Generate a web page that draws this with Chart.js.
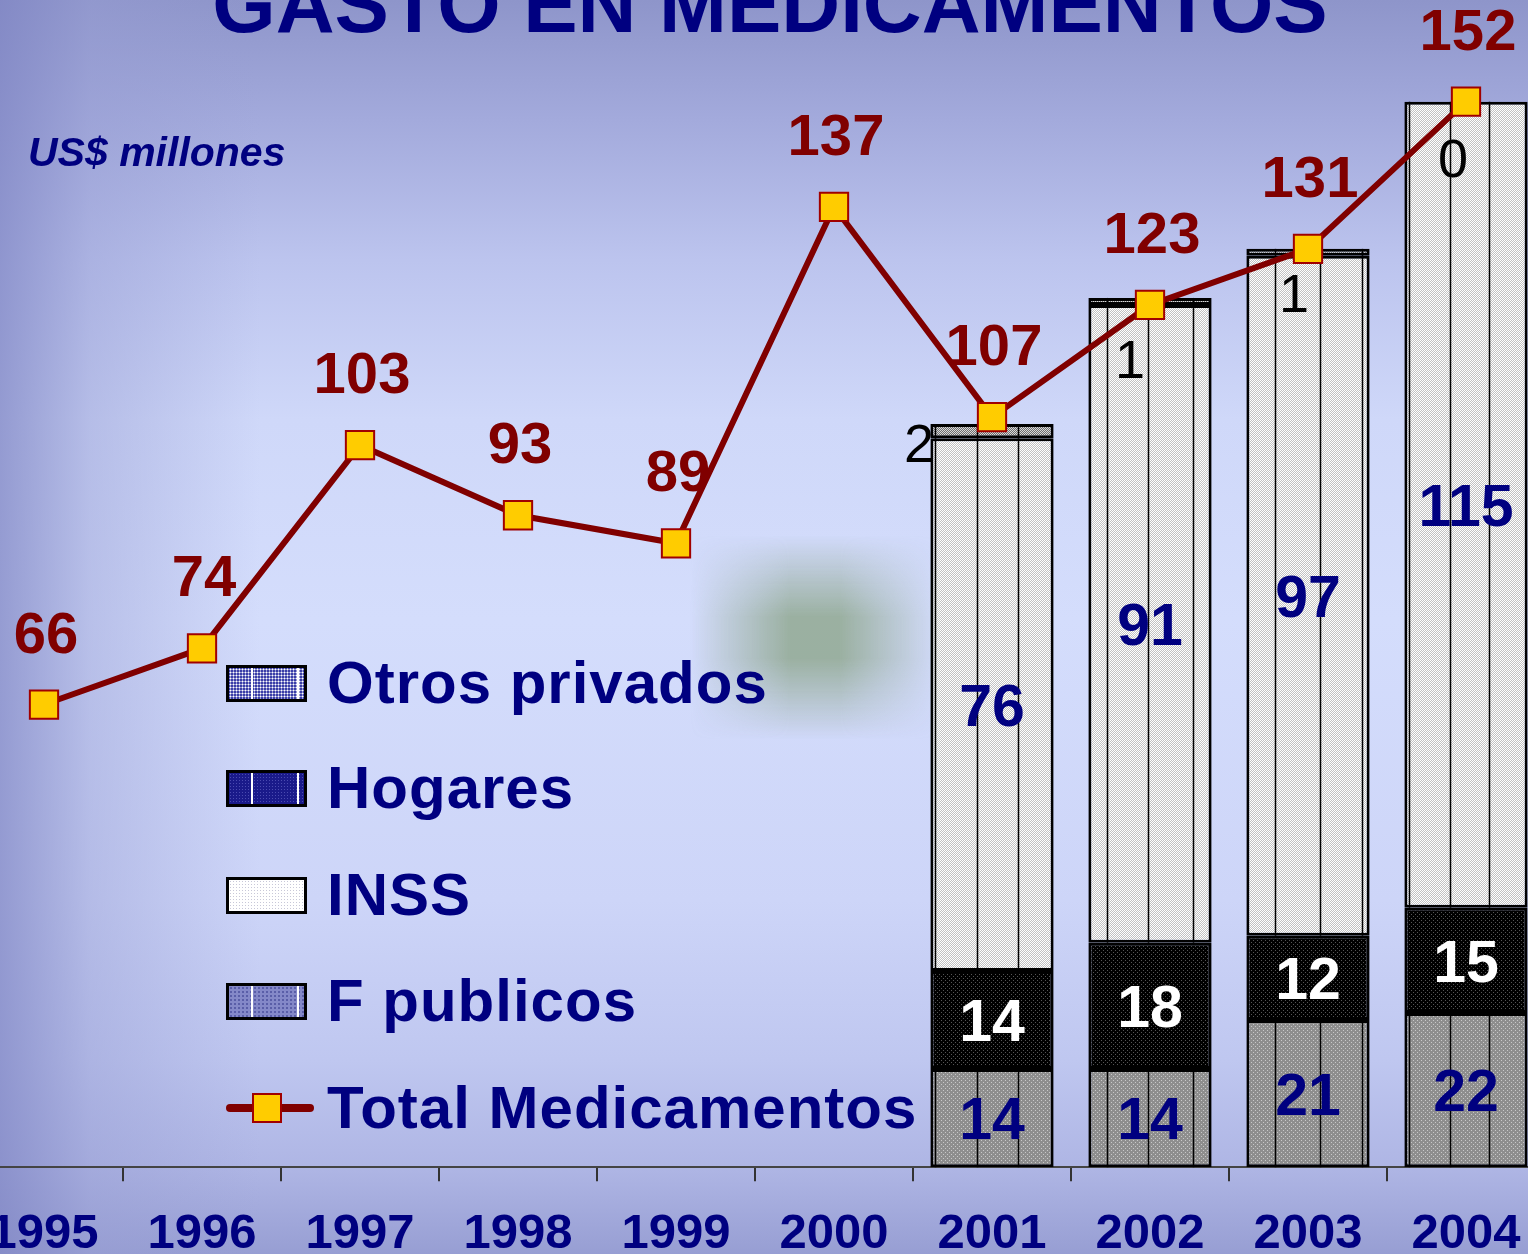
<!DOCTYPE html>
<html>
<head>
<meta charset="utf-8">
<script src="https://cdn.jsdelivr.net/npm/chart.js@4.4.0/dist/chart.umd.min.js"></script>
<style>
html, body { margin: 0; padding: 0; width: 1528px; height: 1254px; overflow: hidden; }
body {
    position: relative;
    font-family: 'Liberation Sans', Arial, sans-serif;
    background:
        linear-gradient(to right, rgba(128,134,196,0.75) 0px, rgba(150,156,210,0.45) 90px, rgba(190,198,240,0) 260px),
        linear-gradient(to bottom, #8e95ca 0px, #a3aadc 120px, #bcc4ee 260px, #cfd8f9 420px, #d4ddfc 620px, #cdd5f8 900px, #bfc7f0 1060px, #aeb5e4 1170px, #979ed3 1254px);
}
#blobx {
    position: absolute; left: 690px; top: 535px; width: 250px; height: 205px;
    -webkit-mask-image: linear-gradient(to right, transparent 0%, #000 40%, #000 60%, transparent 100%);
    mask-image: linear-gradient(to right, transparent 0%, #000 40%, #000 60%, transparent 100%);
}
#bloby {
    width: 100%; height: 100%;
    background: rgba(120,148,105,0.62);
    -webkit-mask-image: linear-gradient(to bottom, transparent 0%, #000 40%, #000 60%, transparent 100%);
    mask-image: linear-gradient(to bottom, transparent 0%, #000 40%, #000 60%, transparent 100%);
}
#wrap { position: absolute; left: -35px; top: 0; width: 1580px; height: 1288px; }
#titulo {
    position: absolute; left: 0; width: 1540px; top: -41px; text-align: center;
    font-size: 81.5px; font-weight: bold; color: #000080; line-height: 90px; white-space: nowrap;
}
#unidad {
    position: absolute; left: 28px; top: 129px;
    font-size: 41px; font-weight: bold; font-style: italic; color: #000080;
}
.leg { position: absolute; left: 226px; height: 60px; }
.leg .box {
    position: absolute; left: 0; top: 12px; width: 75px; height: 31px; border: 3px solid #000;
}
.leg .txt {
    position: absolute; left: 101px; top: 0; line-height: 60px; letter-spacing: 1px;
    font-size: 60px; font-weight: bold; color: #000080; white-space: nowrap;
}
.l1 .box { background:
    linear-gradient(to right, transparent 22px, #fff 22px, #fff 24px, transparent 24px, transparent 68px, #fff 68px, #fff 70px, transparent 70px),
    radial-gradient(circle, #fff 0.9px, transparent 1.1px) 0 0 / 3px 3px, #3a3ea8; }
.l2 .box { background:
    linear-gradient(to right, transparent 22px, #fff 22px, #fff 24px, transparent 24px, transparent 68px, #fff 68px, #fff 70px, transparent 70px),
    radial-gradient(circle, #4a4ab0 0.8px, transparent 1px) 0 0 / 3px 3px, #1a1a8a; }
.l3 .box { background:
    radial-gradient(circle, #c8c8d8 0.8px, transparent 1px) 0 0 / 3px 3px, #fff; }
.l4 .box { background:
    linear-gradient(to right, transparent 22px, #fff 22px, #fff 24px, transparent 24px, transparent 68px, #fff 68px, #fff 70px, transparent 70px),
    radial-gradient(circle, #5a5ea8 0.8px, transparent 1px) 0 0 / 4px 4px, #8488c8; }
.l5 .ln { position: absolute; left: 0; top: 26px; width: 88px; height: 8px; border-radius: 4px; background: #800000; }
.l5 .sq { position: absolute; left: 26px; top: 15px; width: 26px; height: 26px; background: #ffcc00; border: 2px solid #a00000; }
</style>
</head>
<body>
<div id="blobx"><div id="bloby"></div></div>
<div id="wrap"><canvas id="grafico" width="1580" height="1288"></canvas></div>
<div id="titulo">GASTO EN MEDICAMENTOS</div>
<div id="unidad">US$ millones</div>
<div class="leg l1" style="top:653px"><div class="box"></div><div class="txt">Otros privados</div></div>
<div class="leg l2" style="top:758px"><div class="box"></div><div class="txt">Hogares</div></div>
<div class="leg l3" style="top:865px"><div class="box"></div><div class="txt">INSS</div></div>
<div class="leg l4" style="top:971px"><div class="box"></div><div class="txt">F publicos</div></div>
<div class="leg l5" style="top:1078px"><div class="ln"></div><div class="sq"></div><div class="txt">Total Medicamentos</div></div>
<script>
const anios = ['1995', '1996', '1997', '1998', '1999', '2000', '2001', '2002', '2003', '2004'];
const totalMedicamentos = [66, 74, 103, 93, 89, 137, 107, 123, 131, 152];
const fPublicos = [null, null, null, null, null, null, 14, 14, 21, 22];
const hogares = [null, null, null, null, null, null, 14, 18, 12, 15];
const inss = [null, null, null, null, null, null, 76, 91, 97, 115];
const otrosPrivados = [null, null, null, null, null, null, 2, 1, 1, 0];

const fuente = "'Liberation Sans', Arial, sans-serif";

// tramas de las barras
function trama(fondo, punto, paso) {
    const c = document.createElement('canvas');
    c.width = paso; c.height = paso;
    const g = c.getContext('2d');
    g.fillStyle = fondo; g.fillRect(0, 0, paso, paso);
    g.fillStyle = punto;
    g.fillRect(0, 0, 1, 1);
    g.fillRect(paso / 2, paso / 2, 1, 1);
    return g.createPattern(c, 'repeat');
}

// lineas verticales dentro de cada barra (fraccion del ancho)
const rayas = [[0.04, 0.38, 0.71], [0.15, 0.48, 0.85], [0.23, 0.6, 0.94], [0.04, 0.37, 0.69]];
// desplazamiento de las etiquetas de "Otros privados"
const otrosDx = [-73, -20, -14, -13];
const otrosDy = [19, 61, 44, 56];

const rayasPlugin = {
    id: 'rayas',
    afterDatasetDraw(chart, args) {
        if (![1, 3, 4].includes(args.index)) return;
        const ctx = chart.ctx;
        ctx.save();
        ctx.strokeStyle = '#000';
        ctx.lineWidth = 1.5;
        args.meta.data.forEach((bar, j) => {
            if (j < 6 || bar.base - bar.y < 1) return;
            const izq = bar.x - bar.width / 2;
            rayas[j - 6].forEach(f => {
                const x = Math.round(izq + f * bar.width) + 0.5;
                ctx.beginPath();
                ctx.moveTo(x, bar.y);
                ctx.lineTo(x, bar.base);
                ctx.stroke();
            });
        });
        ctx.restore();
    }
};

const etiquetasPlugin = {
    id: 'etiquetas',
    afterDraw(chart) {
        const ctx = chart.ctx;
        ctx.save();
        ctx.textAlign = 'center';
        ctx.textBaseline = 'alphabetic';
        const tam = 59;
        const segmentos = [[1, '#000080'], [2, '#ffffff'], [3, '#000080']];
        segmentos.forEach(([i, color]) => {
            const datos = chart.data.datasets[i].data;
            chart.getDatasetMeta(i).data.forEach((bar, j) => {
                if (datos[j] == null) return;
                ctx.font = 'bold ' + tam + 'px ' + fuente;
                ctx.fillStyle = color;
                ctx.fillText(String(datos[j]), bar.x, (bar.y + bar.base) / 2 + tam * 0.358);
            });
        });
        chart.getDatasetMeta(4).data.forEach((bar, j) => {
            if (otrosPrivados[j] == null) return;
            ctx.font = '54px ' + fuente;
            ctx.fillStyle = '#000';
            ctx.fillText(String(otrosPrivados[j]), bar.x + otrosDx[j - 6], bar.y + otrosDy[j - 6] + 54 * 0.358);
        });
        chart.getDatasetMeta(0).data.forEach((pt, j) => {
            ctx.font = 'bold 58px ' + fuente;
            ctx.fillStyle = '#800000';
            ctx.fillText(String(totalMedicamentos[j]), pt.x + 2, pt.y - 52);
        });
        ctx.restore();
    }
};

const ctx = document.getElementById('grafico');
new Chart(ctx, {
    type: 'bar',
    data: {
        labels: anios,
        datasets: [{
            type: 'line',
            label: 'Total Medicamentos',
            data: totalMedicamentos,
            stack: 'total',
            order: 0,
            borderColor: '#800000',
            borderWidth: 6,
            pointStyle: 'rect',
            pointRadius: 20,
            pointBackgroundColor: '#ffcc00',
            pointBorderColor: '#a00000',
            pointBorderWidth: 2,
            tension: 0
        },
        {
            label: 'F publicos',
            data: fPublicos,
            stack: 'med',
            order: 1,
            backgroundColor: trama('#8e8e8e', '#c8c8c8', 4),
            borderColor: '#000',
            borderWidth: 3,
            borderSkipped: false
        },
        {
            label: 'Hogares',
            data: hogares,
            stack: 'med',
            order: 1,
            backgroundColor: trama('#000000', '#555555', 4),
            borderColor: '#000',
            borderWidth: 3,
            borderSkipped: false
        },
        {
            label: 'INSS',
            data: inss,
            stack: 'med',
            order: 1,
            backgroundColor: trama('#ffffff', '#c2c2c2', 2),
            borderColor: '#000',
            borderWidth: 3,
            borderSkipped: false
        },
        {
            label: 'Otros privados',
            data: otrosPrivados,
            stack: 'med',
            order: 1,
            backgroundColor: trama('#d8d8d8', '#6e6e6e', 2),
            borderColor: '#000',
            borderWidth: 3,
            borderSkipped: false
        }]
    },
    options: {
        responsive: false,
        animation: false,
        devicePixelRatio: 1,
        layout: { padding: 0, autoPadding: false },
        datasets: { bar: { barPercentage: 0.78, categoryPercentage: 1 } },
        plugins: {
            legend: { display: false },
            tooltip: { enabled: false }
        },
        scales: {
            x: {
                stacked: true,
                offset: true,
                grid: { offset: true, drawOnChartArea: false, tickLength: 14, color: '#333', lineWidth: 2 },
                border: { color: '#444', width: 2 },
                ticks: {
                    color: '#000080',
                    font: { family: fuente, size: 49, weight: 'bold' },
                    padding: 24,
                    maxRotation: 0,
                    autoSkip: false
                }
            },
            y: {
                display: false,
                stacked: true,
                min: 0,
                max: 166.5
            }
        }
    },
    plugins: [rayasPlugin, etiquetasPlugin]
});
</script>
</body>
</html>
